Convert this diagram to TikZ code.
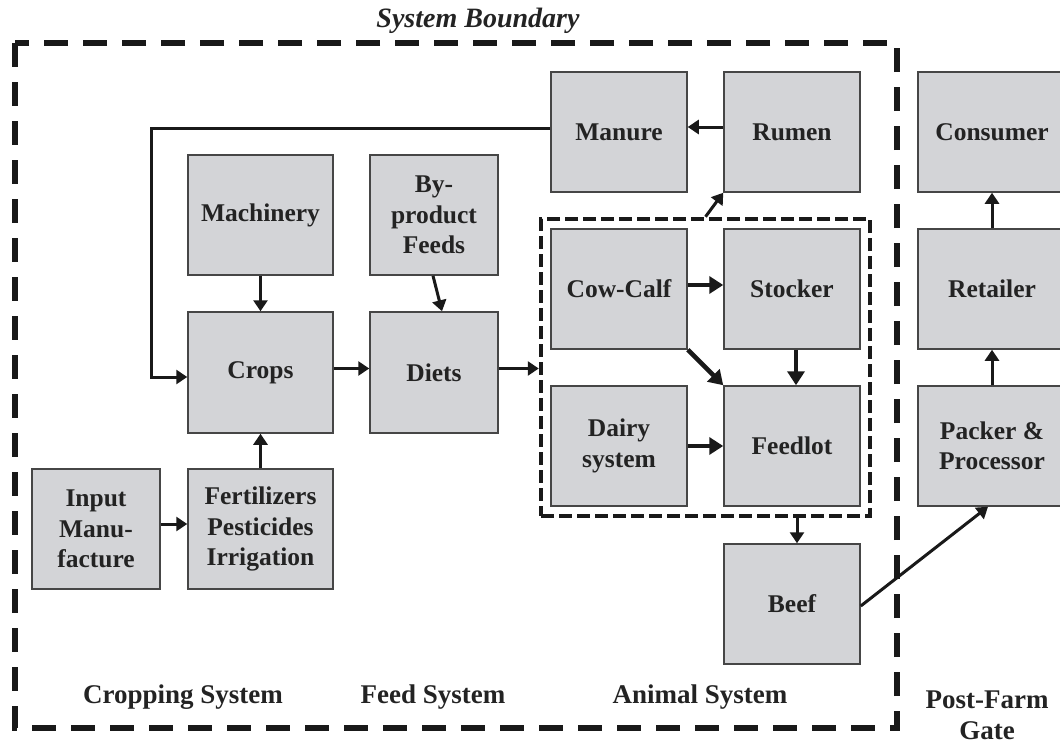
\documentclass[tikz,border=0pt]{standalone}
\usepackage{fontspec}
\setmainfont{Liberation Serif}
\usetikzlibrary{arrows.meta}
\definecolor{boxfill}{RGB}{211,212,215}
\definecolor{boxline}{RGB}{70,70,70}
\definecolor{txt}{RGB}{35,35,35}
\tikzset{
  box/.style={draw=boxline, line width=1.5pt, fill=boxfill, align=center,
    font=\bfseries\fontsize{25.5}{30.5}\selectfont, text=txt, inner sep=0pt},
  arr/.style={line width=3pt, -{Triangle[length=11pt,width=14pt]}, draw=black!90},
  thickarr/.style={line width=4.6pt, -{Triangle[length=14pt,width=17pt]}, draw=black!90},
  outerdash/.style={line width=5.5pt, dash pattern=on 24pt off 15pt, draw=black!90},
  innerdash/.style={draw=black!90, line width=4.5pt, dash pattern=on 13pt off 5pt},
  lbl/.style={font=\bfseries\fontsize{27}{31}\selectfont, text=txt, align=center, inner sep=0pt},
}
\begin{document}
\begin{tikzpicture}[x=1pt,y=-1pt]
\useasboundingbox (0,0) rectangle (1060,744);
% outer boundary
\draw[outerdash] (15,43) rectangle (897,728);
\node[lbl, font=\bfseries\itshape\fontsize{28}{32}\selectfont] (sb) at (478,21) {System Boundary};
% inner boundary
\node[innerdash, minimum width=329pt, minimum height=297pt, inner sep=0pt] (inner) at (705.5,367.5) {};
% boxes
\node[box, minimum width=136pt, minimum height=120pt] (manure) at (619,132) {Manure};
\node[box, minimum width=136pt, minimum height=120pt] (rumen) at (792,132) {Rumen};
\node[box, minimum width=148pt, minimum height=120pt] (consumer) at (992,132) {Consumer};
\node[box, minimum width=145pt, minimum height=120pt] (machinery) at (260.5,215) {Machinery};
\node[box, minimum width=128pt, minimum height=120pt] (byprod) at (434,215) {By-\\product\\Feeds};
\node[box, minimum width=145pt, minimum height=121pt] (crops) at (260.5,372.5) {Crops};
\node[box, minimum width=128pt, minimum height=121pt] (diets) at (434,372.5) {Diets};
\node[box, minimum width=136pt, minimum height=120pt] (cowcalf) at (619,289) {Cow-Calf};
\node[box, minimum width=136pt, minimum height=120pt] (stocker) at (792,289) {Stocker};
\node[box, minimum width=148pt, minimum height=120pt] (retailer) at (992,289) {Retailer};
\node[box, minimum width=136pt, minimum height=120pt] (dairy) at (619,446) {Dairy\\system};
\node[box, minimum width=136pt, minimum height=120pt] (feedlot) at (792,446) {Feedlot};
\node[box, minimum width=148pt, minimum height=120pt] (packer) at (992,446) {Packer \&\\Processor};
\node[box, minimum width=128pt, minimum height=120pt] (input) at (96,529) {Input\\Manu-\\facture};
\node[box, minimum width=145pt, minimum height=120pt] (fert) at (260.5,529) {Fertilizers\\Pesticides\\Irrigation};
\node[box, minimum width=136pt, minimum height=120pt] (beef) at (792,604) {Beef};
% connectors
\coordinate (loopA) at (151,128);
\coordinate (loopB) at (151,377);
\draw[arr] (manure.west |- loopA) -- (loopA) -- (loopB) -- (crops.west |- loopB);
\draw[arr] ([yshift=5pt]rumen.west) -- ([yshift=5pt]manure.east);
\draw[arr] (machinery.south) -- (crops.north);
\draw[arr] ([xshift=-1pt]byprod.south) -- ([xshift=8pt]diets.north);
\draw[arr] ([yshift=4pt]crops.east) -- ([yshift=4pt]diets.east -| diets.west);
\draw[arr] ([yshift=4pt]diets.east) -- ([yshift=4pt]diets.east -| inner.west);
\draw[arr] (fert.north) -- (crops.south);
\draw[arr] ([yshift=5pt]input.east) -- ([yshift=5pt]fert.west);
\draw[arr] (inner.north) -- (rumen.south west);
\draw[thickarr] ([yshift=4pt]cowcalf.east) -- ([yshift=4pt]stocker.west);
\draw[thickarr] (cowcalf.south east) -- (feedlot.north west);
\draw[thickarr] ([xshift=4pt]stocker.south) -- ([xshift=4pt]feedlot.north);
\draw[thickarr] (dairy.east) -- (dairy.east -| feedlot.west);
\draw[arr] ([xshift=5pt]beef.north |- inner.south) -- ([xshift=5pt]beef.north);
\draw[arr] ([yshift=-2pt]beef.east) -- ([xshift=-4pt]packer.south);
\draw[arr] (retailer.north) -- (consumer.south);
\draw[arr] (packer.north) -- (retailer.south);
% labels
\node[lbl] (crop) at (183,697) {Cropping System};
\node[lbl] (feed) at (433,697) {Feed System};
\node[lbl] (anim) at (700,697) {Animal System};
\node[lbl] (post) at (987,715) {Post-Farm\\Gate};
\end{tikzpicture}
\end{document}
